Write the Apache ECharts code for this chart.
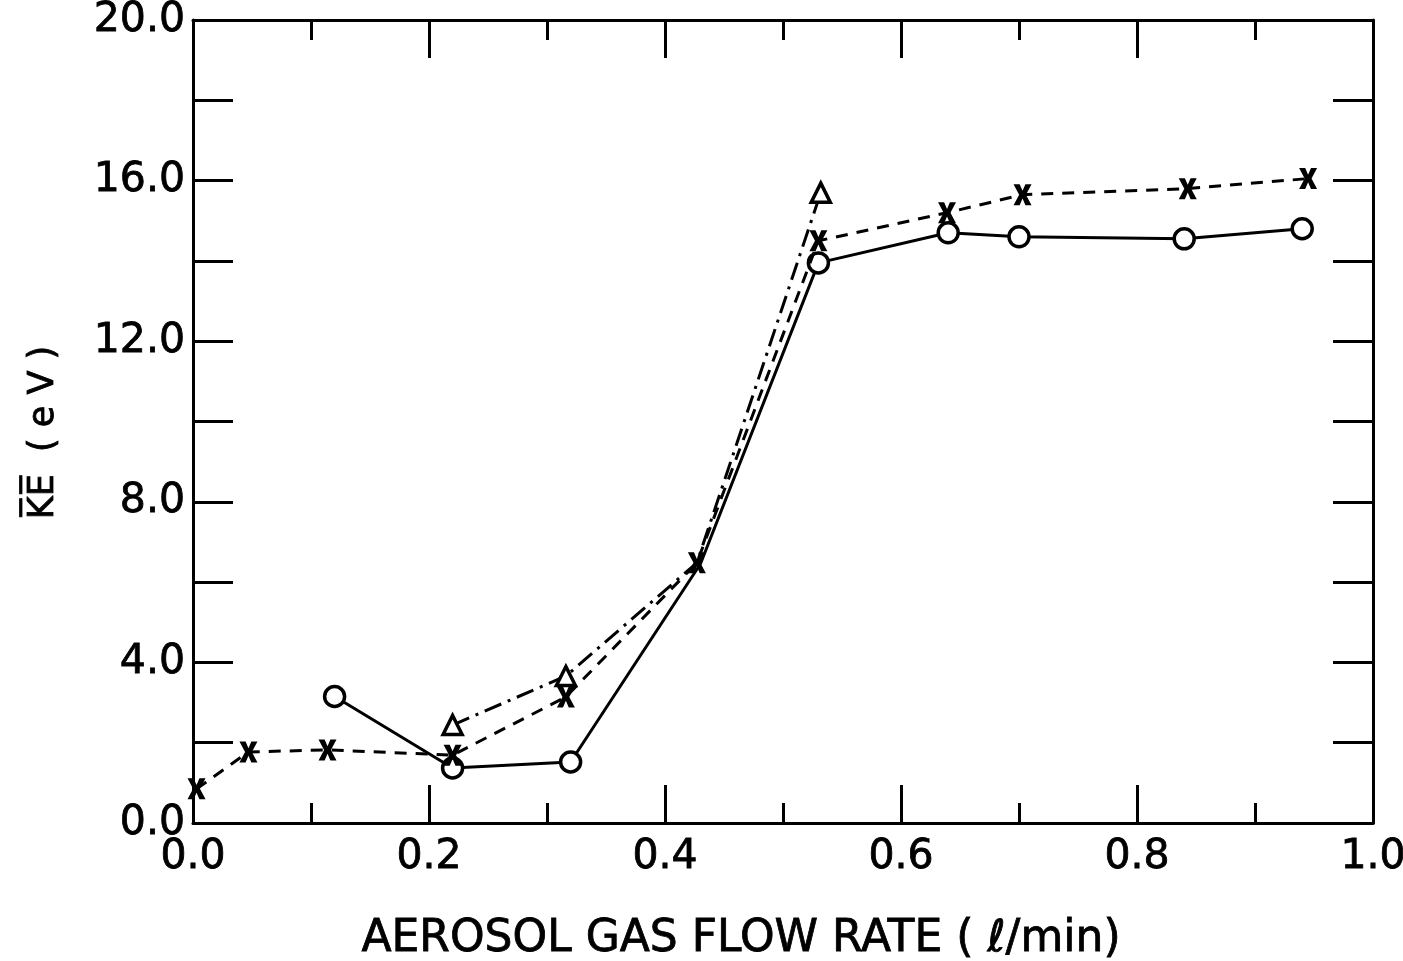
<!DOCTYPE html>
<html>
<head>
<meta charset="utf-8">
<script src="https://cdn.jsdelivr.net/npm/echarts@6/dist/echarts.min.js"></script>
<style>html,body{margin:0;padding:0;background:#fff}#c{width:1403px;height:961px}</style>
</head>
<body>
<div id="c"></div>
<script>
// Data
const circleX = [0.12, 0.22, 0.32, 0.43, 0.53, 0.64, 0.70, 0.84, 0.94];
const circleY = [3.15, 1.37, 1.52, 6.45, 13.95, 14.7, 14.6, 14.55, 14.8];
const circleMarked = [true, true, true, false, true, true, true, true, true];

const crossX = [0.003, 0.047, 0.114, 0.22, 0.316, 0.427, 0.53, 0.639, 0.703, 0.843, 0.945];
const crossY = [0.85, 1.77, 1.82, 1.69, 3.14, 6.48, 14.5, 15.2, 15.65, 15.8, 16.05];

const triX = [0.22, 0.316, 0.427, 0.532];
const triY = [2.44, 3.66, 6.48, 15.7];
const triMarked = [true, true, false, true];

const xTickLabels = ['0.0', '0.2', '0.4', '0.6', '0.8', '1.0'];
const yTickLabels = ['0.0', '4.0', '8.0', '12.0', '16.0', '20.0'];

const FONT = 'DejaVu Sans';
const crossPath = 'path://M0,0 L3.4,0 L5,3.2 L6.6,0 L10,0 L6.9,5 L10,10 L6.6,10 L5,6.8 L3.4,10 L0,10 L3.1,5 Z';

function pts(xs, ys, marked) {
  return xs.map((x, i) => {
    const d = { value: [x, ys[i]] };
    if (marked && !marked[i]) d.symbol = 'none';
    return d;
  });
}

const xBase = {
  type: 'value', min: 0, max: 1, interval: 0.2,
  axisLine: { show: true, onZero: false, lineStyle: { color: '#000', width: 3 } },
  axisTick: { show: true, inside: true, length: 38, lineStyle: { color: '#000', width: 3 } },
  minorTick: { show: true, splitNumber: 2, length: 20, lineStyle: { color: '#000', width: 3 } },
  splitLine: { show: false }
};
const yBase = {
  type: 'value', min: 0, max: 20, interval: 2,
  axisLine: { show: true, onZero: false, lineStyle: { color: '#000', width: 3 } },
  axisTick: { show: true, inside: true, length: 40, lineStyle: { color: '#000', width: 3 } },
  splitLine: { show: false }
};
const labelStyle = { fontFamily: FONT, fontSize: 41, color: '#000', textBorderColor: '#000', textBorderWidth: 0.8 };

const chart = echarts.init(document.getElementById('c'), null, { renderer: 'canvas' });
chart.setOption({
  backgroundColor: '#fff',
  animation: false,
  grid: { left: 193, right: 30, top: 20, bottom: 138, containLabel: false, outerBoundsMode: 'none' },
  xAxis: [
    Object.assign({}, xBase, {
      position: 'bottom',
      name: 'AEROSOL GAS FLOW RATE ( ℓ/min)',
      nameLocation: 'middle', nameGap: 95,
      nameTextStyle: Object.assign({}, labelStyle, { fontSize: 44, padding: [0, 84, 0, 0] }),
      axisLabel: Object.assign({ show: true, margin: 14,
        formatter: v => xTickLabels[Math.round(v / 0.2)] || '' }, labelStyle)
    }),
    Object.assign({}, xBase, { position: 'top', axisLabel: { show: false } })
  ],
  yAxis: [
    Object.assign({}, yBase, {
      position: 'left',
      name: 'K\u0305E\u0305  ( e V )',
      nameLocation: 'middle', nameGap: 132, nameRotate: 90,
      nameTextStyle: Object.assign({}, labelStyle, { fontSize: 35, padding: [0, 22, 0, 0] }),
      axisLabel: Object.assign({ show: true, margin: 8,
        formatter: v => (Math.round(v) % 4 === 0 ? yTickLabels[Math.round(v) / 4] : '') }, labelStyle)
    }),
    Object.assign({}, yBase, { position: 'right', axisLabel: { show: false } })
  ],
  series: [
    {
      type: 'line', name: 'circles', data: pts(circleX, circleY, circleMarked),
      symbol: 'circle', symbolSize: 20, showAllSymbol: true,
      lineStyle: { color: '#000', width: 3, type: 'solid' },
      itemStyle: { color: '#fff', borderColor: '#000', borderWidth: 3.5 },
      z: 3
    },
    {
      type: 'line', name: 'crosses', data: pts(crossX, crossY),
      symbol: crossPath, symbolSize: [18, 21], showAllSymbol: true,
      lineStyle: { color: '#000', width: 3, type: [12, 9] },
      itemStyle: { color: '#000' },
      z: 4
    },
    {
      type: 'line', name: 'triangles', data: pts(triX, triY, triMarked),
      symbol: 'triangle', symbolSize: 19, showAllSymbol: true,
      lineStyle: { color: '#000', width: 3, type: [18, 7, 3, 7] },
      itemStyle: { color: '#fff', borderColor: '#000', borderWidth: 3.5 },
      z: 2
    }
  ]
});
</script>
</body>
</html>
